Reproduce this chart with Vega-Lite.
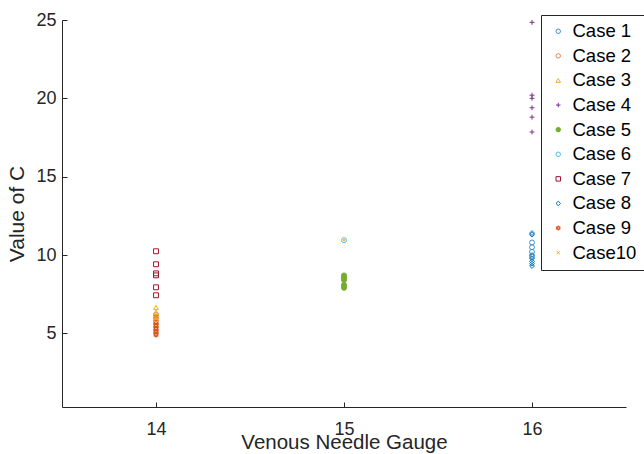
{
  "$schema": "https://vega.github.io/schema/vega-lite/v6.json",
  "width": 564,
  "height": 387,
  "autosize": {"type": "none"},
  "padding": {"left": 62, "top": 20, "right": 18, "bottom": 47},
  "background": "white",
  "config": {
    "view": {"stroke": null},
    "font": "Liberation Sans",
    "axis": {
      "grid": false,
      "domainColor": "#262626",
      "tickColor": "#262626",
      "labelColor": "#262626",
      "titleColor": "#262626",
      "labelFont": "Liberation Sans",
      "titleFont": "Liberation Sans",
      "labelFontSize": 18,
      "titleFontSize": 21,
      "titleFontWeight": "normal",
      "domainWidth": 1,
      "tickWidth": 1
    }
  },
  "data": {
    "values": [
      {"gauge": 14, "c": 10.24, "case": "Case 7"},
      {"gauge": 14, "c": 9.41, "case": "Case 7"},
      {"gauge": 14, "c": 8.83, "case": "Case 7"},
      {"gauge": 14, "c": 8.70, "case": "Case 7"},
      {"gauge": 14, "c": 7.94, "case": "Case 7"},
      {"gauge": 14, "c": 7.43, "case": "Case 7"},
      {"gauge": 14, "c": 6.2, "case": "Case 2"},
      {"gauge": 14, "c": 6.0, "case": "Case 2"},
      {"gauge": 14, "c": 5.8, "case": "Case 2"},
      {"gauge": 14, "c": 5.6, "case": "Case 2"},
      {"gauge": 14, "c": 5.4, "case": "Case 2"},
      {"gauge": 14, "c": 5.2, "case": "Case 2"},
      {"gauge": 14, "c": 5.0, "case": "Case 2"},
      {"gauge": 14, "c": 6.1, "case": "Case 9"},
      {"gauge": 14, "c": 5.9, "case": "Case 9"},
      {"gauge": 14, "c": 5.7, "case": "Case 9"},
      {"gauge": 14, "c": 5.5, "case": "Case 9"},
      {"gauge": 14, "c": 5.3, "case": "Case 9"},
      {"gauge": 14, "c": 5.1, "case": "Case 9"},
      {"gauge": 14, "c": 4.9, "case": "Case 9"},
      {"gauge": 14, "c": 6.65, "case": "Case 3"},
      {"gauge": 14, "c": 6.35, "case": "Case 3"},
      {"gauge": 14, "c": 6.1, "case": "Case 3"},
      {"gauge": 14, "c": 5.9, "case": "Case 3"},
      {"gauge": 15, "c": 10.95, "case": "Case 6"},
      {"gauge": 15, "c": 10.95, "case": "Case10"},
      {"gauge": 15, "c": 8.7, "case": "Case 5"},
      {"gauge": 15, "c": 8.6, "case": "Case 5"},
      {"gauge": 15, "c": 8.5, "case": "Case 5"},
      {"gauge": 15, "c": 8.4, "case": "Case 5"},
      {"gauge": 15, "c": 8.1, "case": "Case 5"},
      {"gauge": 15, "c": 8.0, "case": "Case 5"},
      {"gauge": 15, "c": 7.9, "case": "Case 5"},
      {"gauge": 16, "c": 24.85, "case": "Case 4"},
      {"gauge": 16, "c": 20.2, "case": "Case 4"},
      {"gauge": 16, "c": 20.0, "case": "Case 4"},
      {"gauge": 16, "c": 19.4, "case": "Case 4"},
      {"gauge": 16, "c": 18.8, "case": "Case 4"},
      {"gauge": 16, "c": 17.85, "case": "Case 4"},
      {"gauge": 16, "c": 10.8, "case": "Case 1"},
      {"gauge": 16, "c": 10.5, "case": "Case 1"},
      {"gauge": 16, "c": 10.2, "case": "Case 1"},
      {"gauge": 16, "c": 9.9, "case": "Case 1"},
      {"gauge": 16, "c": 11.4, "case": "Case 8"},
      {"gauge": 16, "c": 11.3, "case": "Case 8"},
      {"gauge": 16, "c": 10.0, "case": "Case 8"},
      {"gauge": 16, "c": 9.8, "case": "Case 8"},
      {"gauge": 16, "c": 9.6, "case": "Case 8"},
      {"gauge": 16, "c": 9.45, "case": "Case 8"},
      {"gauge": 16, "c": 9.3, "case": "Case 8"}
    ]
  },
  "mark": {"type": "point", "size": 24, "strokeWidth": 1, "opacity": 1},
  "encoding": {
    "x": {
      "field": "gauge",
      "type": "quantitative",
      "scale": {"domain": [13.5, 16.5], "nice": false, "zero": false},
      "axis": {"values": [14, 15, 16], "title": "Venous Needle Gauge", "tickSize": -5, "labelPadding": 18, "titlePadding": -6, "titleFontSize": 20.5}
    },
    "y": {
      "field": "c",
      "type": "quantitative",
      "scale": {"domain": [0.3, 25], "nice": false, "zero": false},
      "axis": {"values": [5, 10, 15, 20, 25], "title": "Value of C", "tickSize": -5, "labelPadding": 11, "titlePadding": 8}
    },
    "stroke": {
      "field": "case",
      "type": "nominal",
      "scale": {
        "domain": ["Case 1", "Case 2", "Case 3", "Case 4", "Case 5", "Case 6", "Case 7", "Case 8", "Case 9", "Case10"],
        "range": ["#3f8fd0", "#e8845a", "#EDB120", "#7E2F8E", "#77AC30", "#4DBEEE", "#A2142F", "#0072BD", "#D95319", "#EDB120"]
      },
      "legend": null
    },
    "fill": {
      "field": "case",
      "type": "nominal",
      "scale": {
        "domain": ["Case 1", "Case 2", "Case 3", "Case 4", "Case 5", "Case 6", "Case 7", "Case 8", "Case 9", "Case10"],
        "range": ["transparent", "transparent", "transparent", "transparent", "#77AC30", "transparent", "transparent", "transparent", "transparent", "transparent"]
      },
      "legend": null
    },
    "shape": {
      "field": "case",
      "type": "nominal",
      "scale": {
        "domain": ["Case 1", "Case 2", "Case 3", "Case 4", "Case 5", "Case 6", "Case 7", "Case 8", "Case 9", "Case10"],
        "range": ["circle", "circle", "triangle-up", "M-1,0H1M0,-1V1", "circle", "circle", "square", "diamond", "M0,-1L0.866,0.5L-0.866,0.5ZM0,1L0.866,-0.5L-0.866,-0.5Z", "M-0.7,-0.7L0.7,0.7M-0.7,0.7L0.7,-0.7"]
      },
      "legend": {
        "title": null,
        "orient": "none",
        "legendX": 479,
        "legendY": -5,
        "strokeColor": "#262626",
        "fillColor": "white",
        "padding": 7,
        "labelFontSize": 18.5,
        "labelColor": "#000000",
        "labelFont": "Liberation Sans",
        "labelOffset": 5,
        "symbolOffset": 1,
        "rowPadding": 5.6,
        "symbolSize": 20,
        "symbolStrokeWidth": 1
      }
    }
  }
}
